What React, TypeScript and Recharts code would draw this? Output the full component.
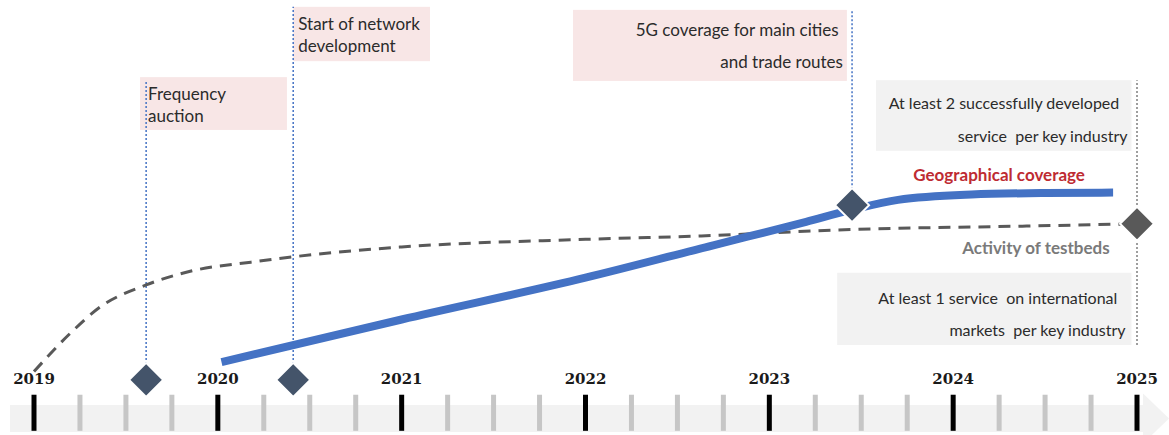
import {
  ComposedChart,
  Line,
  ReferenceArea,
  ReferenceDot,
  ReferenceLine,
  Scatter,
  XAxis,
  YAxis,
} from "recharts";

// timeline, in years
const years = [2019, 2020, 2021, 2022, 2023, 2024, 2025];
const quarterTicks = [
  2019.25, 2019.5, 2019.75, 2020.25, 2020.5, 2020.75, 2021.25, 2021.5, 2021.75,
  2022.25, 2022.5, 2022.75, 2023.25, 2023.5, 2023.75, 2024.25, 2024.5, 2024.75,
];

// progress curves (arbitrary level 0..100)
const geoCoverage = [
  { x: 2020.02, y: 4.7 },
  { x: 2021.0, y: 15.9 },
  { x: 2022.0, y: 26.9 },
  { x: 2022.7, y: 35.5 },
  { x: 2023.2, y: 41.6 },
  { x: 2023.45, y: 44.8 },
  { x: 2023.7, y: 47.4 },
  { x: 2024.1, y: 48.8 },
  { x: 2024.5, y: 49.2 },
  { x: 2024.87, y: 49.3 },
];

const testbedActivity = [
  { x: 2019.0, y: 2.2 },
  { x: 2019.2, y: 12.4 },
  { x: 2019.36, y: 19.2 },
  { x: 2019.61, y: 25.0 },
  { x: 2019.85, y: 28.6 },
  { x: 2020.18, y: 31.0 },
  { x: 2020.41, y: 32.4 },
  { x: 2021.0, y: 35.0 },
  { x: 2022.0, y: 37.0 },
  { x: 2022.63, y: 37.9 },
  { x: 2023.45, y: 39.6 },
  { x: 2024.4, y: 40.5 },
  { x: 2025.0, y: 41.1 },
];

// milestones
const networkMilestones = [
  { x: 2019.61, y: 0 },
  { x: 2020.41, y: 0 },
  { x: 2023.45, y: 46 },
];
const serviceMilestones = [{ x: 2025.0, y: 41.1 }];

const networkGuides = [
  { x: 2019.61, from: 0, to: 78.9 },
  { x: 2020.41, from: 0, to: 98.2 },
  { x: 2023.45, from: 46, to: 97.4 },
];
const serviceGuides = [{ x: 2025.0, from: 9.2, to: 78.9 }];

const noteTexts = {
  auction: ["Frequency", "auction"],
  network: ["Start of network", "development"],
  coverage: ["5G coverage for main cities\u00a0", "and trade routes"],
  services: ["At least 2 successfully developed\u00a0\u00a0", "service  per key industry"],
  markets: ["At least 1 service  on international\u00a0\u00a0", "markets  per key industry"],
};

const PINK = "#f8e6e6";
const GREY_BOX = "#f2f2f2";
const FONT = "Lato, 'Open Sans', sans-serif";

const notes = [
  { key: "auction", x1: 2019.577, x2: 2020.376, y1: 65.8, y2: 79.7, fill: PINK, align: "left", pad: 8, size: 17, rows: [23, 45] },
  { key: "network", x1: 2020.41, x2: 2021.154, y1: 83.9, y2: 98.2, fill: PINK, align: "left", pad: 5, size: 17, rows: [23, 45] },
  { key: "coverage", x1: 2021.932, x2: 2023.422, y1: 78.7, y2: 97.4, fill: PINK, align: "right", pad: 4, size: 17, rows: [26, 58] },
  { key: "services", x1: 2023.58, x2: 2024.97, y1: 60.3, y2: 78.9, fill: GREY_BOX, align: "right", pad: 4, size: 16, rows: [29, 62] },
  { key: "markets", x1: 2023.369, x2: 2024.97, y1: 9.2, y2: 28.2, fill: GREY_BOX, align: "right", pad: 6, size: 16, rows: [31, 63] },
] as const;

const noteShape = (note: (typeof notes)[number]) => (p: any) => {
  const lines = noteTexts[note.key];
  const tx = note.align === "left" ? p.x + note.pad : p.x + p.width - note.pad;
  return (
    <g>
      <rect x={p.x} y={p.y} width={p.width} height={p.height} fill={note.fill} />
      {lines.map((l, i) => (
        <text
          key={i}
          x={tx}
          y={p.y + note.rows[i]}
          textAnchor={note.align === "left" ? "start" : "end"}
          fontFamily={FONT}
          fontSize={note.size}
          fill="#2b2b2b"
          style={{ whiteSpace: "pre" }}
        >
          {l}
        </text>
      ))}
    </g>
  );
};

const diamond = (fill: string) => (p: any) => {
  const r = 17;
  const { cx, cy } = p;
  return (
    <polygon
      points={`${cx},${cy - r} ${cx + r},${cy} ${cx},${cy + r} ${cx - r},${cy}`}
      fill={fill}
      stroke="#fff"
      strokeWidth={2}
    />
  );
};

const band = (p: any) => {
  const left = p.x - 24;
  const right = p.x + p.width + 6;
  const mid = p.y + p.height / 2;
  return (
    <g>
      <rect x={left} y={p.y} width={right - left} height={p.height} fill="#f2f2f2" />
      <polygon points={`${right},${mid - 25} ${right + 26},${mid} ${right},${mid + 25}`} fill="#f2f2f2" />
    </g>
  );
};

const yearLabel = (label: string) => (p: any) => (
  <text
    x={p.cx}
    y={p.cy}
    textAnchor="middle"
    fontFamily="'DejaVu Serif', Georgia, serif"
    fontWeight="bold"
    fontSize={15}
    fill="#1a1a1a"
  >
    {label}
  </text>
);

const lineLabel = (label: string, color: string) => (p: any) => (
  <text x={p.cx} y={p.cy} textAnchor="middle" fontFamily={FONT} fontWeight="bold" fontSize={17} fill={color}>
    {label}
  </text>
);

export default function App() {
  return (
    <div>
      <style>{"body{margin:0}"}</style>
      <ComposedChart width={1169} height={435} margin={{ top: 0, right: 32, bottom: 0, left: 34 }}>
        <XAxis type="number" dataKey="x" domain={[2019, 2025]} hide />
        <YAxis type="number" dataKey="y" domain={[-14.5, 100]} hide />

        {/* timeline band with arrow */}
        <ReferenceArea x1={2019} x2={2025} y1={-13.7} y2={-6.6} ifOverflow="visible" shape={band} />

        {notes.map((n) => (
          <ReferenceArea key={n.key} x1={n.x1} x2={n.x2} y1={n.y1} y2={n.y2} ifOverflow="visible" shape={noteShape(n)} />
        ))}

        {quarterTicks.map((t) => (
          <ReferenceLine
            key={t}
            segment={[{ x: t, y: -3.9 }, { x: t, y: -13.4 }]}
            stroke="#c6c6c6"
            strokeWidth={5}
            ifOverflow="visible"
          />
        ))}
        {years.map((t) => (
          <ReferenceLine
            key={t}
            segment={[{ x: t, y: -3.9 }, { x: t, y: -13.4 }]}
            stroke="#000"
            strokeWidth={5}
            ifOverflow="visible"
          />
        ))}
        {years.map((t) => (
          <ReferenceDot key={`l${t}`} x={t} y={-1.1} r={0} ifOverflow="visible" shape={yearLabel(String(t))} />
        ))}

        {networkGuides.map((g) => (
          <ReferenceLine
            key={g.x}
            segment={[{ x: g.x, y: g.from }, { x: g.x, y: g.to }]}
            stroke="#4472c4"
            strokeWidth={1.5}
            strokeDasharray="2 2"
            ifOverflow="visible"
          />
        ))}
        {serviceGuides.map((g) => (
          <ReferenceLine
            key={g.x}
            segment={[{ x: g.x, y: g.from }, { x: g.x, y: g.to }]}
            stroke="#7f7f7f"
            strokeWidth={1.5}
            strokeDasharray="2 2"
            ifOverflow="visible"
          />
        ))}

        <Line
          data={testbedActivity}
          dataKey="y"
          type="monotone"
          stroke="#595959"
          strokeWidth={3}
          strokeDasharray="12 8"
          dot={false}
          activeDot={false}
          isAnimationActive={false}
        />
        <Line
          data={geoCoverage}
          dataKey="y"
          type="monotone"
          stroke="#4472c4"
          strokeWidth={8}
          dot={false}
          activeDot={false}
          isAnimationActive={false}
        />

        <Scatter data={networkMilestones} dataKey="y" shape={diamond("#44546a")} isAnimationActive={false} />
        <Scatter data={serviceMilestones} dataKey="y" shape={diamond("#595959")} isAnimationActive={false} />

        <ReferenceDot x={2024.25} y={52.4} r={0} ifOverflow="visible" shape={lineLabel("Geographical coverage", "#be2b32")} />
        <ReferenceDot x={2024.45} y={33.2} r={0} ifOverflow="visible" shape={lineLabel("Activity of testbeds", "#7a7a7a")} />
      </ComposedChart>
    </div>
  );
}
